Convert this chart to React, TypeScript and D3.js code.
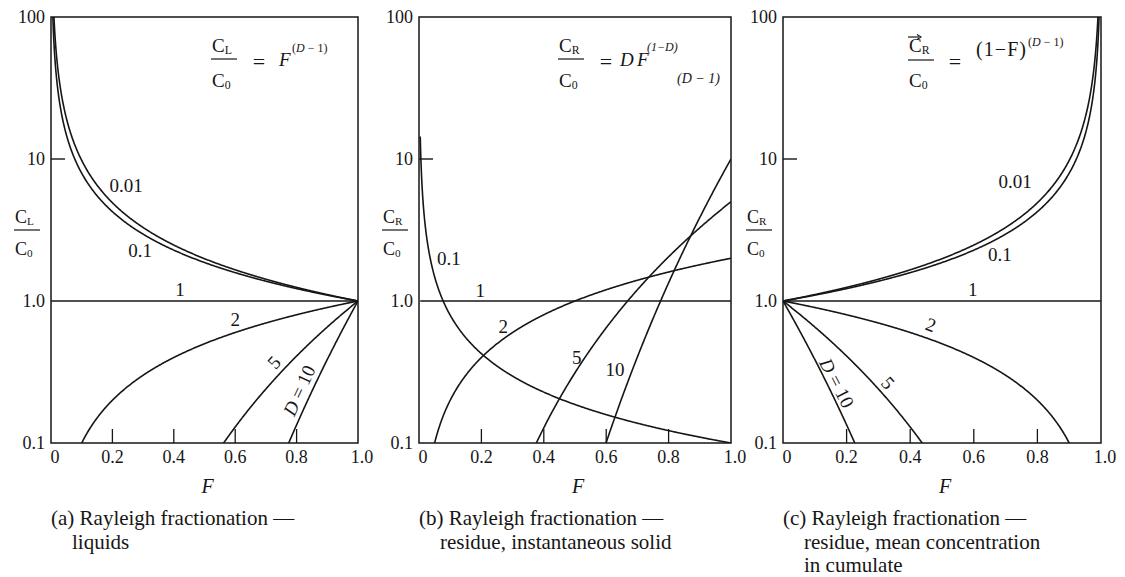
import React from "react";
import * as d3 from "d3";

const W = 1125;
const H = 577;

// Partition coefficients D drawn in each panel
const dLiquid = [0.01, 0.1, 1, 2, 5, 10];
const dInstant = [0.1, 1, 2, 5, 10];
const dCumulate = [0.01, 0.1, 1, 2, 5, 10];

// Axis ticks
const xTickValues = [0, 0.2, 0.4, 0.6, 0.8, 1.0];
const xTickLabels = ["0", "0.2", "0.4", "0.6", "0.8", "1.0"];
const xInnerTicks = [0.2, 0.4, 0.6, 0.8];
const yTickValues = [0.1, 1, 10, 100];
const yTickLabels = ["0.1", "1.0", "10", "100"];
const yInnerTicks = [10];

// Curve labels, anchored in data space (F, C/C0)
const labelsLiquid = [
  { text: "0.01", F: 0.245, v: 6.5, rot: 0 },
  { text: "0.1", F: 0.29, v: 2.25, rot: 0 },
  { text: "1", F: 0.42, v: 1.2, rot: 0 },
  { text: "2", F: 0.6, v: 0.74, rot: 0 },
  { text: "5", F: 0.726, v: 0.37, rot: -47 },
  { text: "D = 10", F: 0.808, v: 0.235, rot: -65 },
];
const labelsInstant = [
  { text: "0.1", F: 0.096, v: 2.0, rot: 0 },
  { text: "1", F: 0.196, v: 1.18, rot: 0 },
  { text: "2", F: 0.27, v: 0.66, rot: 0 },
  { text: "5", F: 0.506, v: 0.4, rot: 0 },
  { text: "10", F: 0.628, v: 0.33, rot: 0 },
];
const labelsCumulate = [
  { text: "0.01", F: 0.73, v: 6.9, rot: 0 },
  { text: "0.1", F: 0.682, v: 2.14, rot: 0 },
  { text: "1", F: 0.597, v: 1.2, rot: 0 },
  { text: "2", F: 0.465, v: 0.68, rot: 20 },
  { text: "5", F: 0.33, v: 0.265, rot: 48 },
  { text: "D = 10", F: 0.17, v: 0.265, rot: 63 },
];

// Rayleigh fractionation relations
const liquidConc = (F: number, D: number) => Math.pow(F, D - 1);
const instantSolidConc = (F: number, D: number) => D * Math.pow(F, D - 1);
const cumulateConc = (F: number, D: number) => Math.pow(1 - F, D - 1);

const INK = "#161616";
const SERIF = "'Liberation Serif', 'Times New Roman', serif";

const yTop = 17;
const yBottom = 443;

interface PanelDef {
  id: string;
  x0: number;
  x1: number;
  ds: number[];
  f: (F: number, D: number) => number;
  fMin: number;
  fMax: number;
  labels: { text: string; F: number; v: number; rot: number }[];
  sub: string;
  caption: string[];
}

const panels: PanelDef[] = [
  {
    id: "a",
    x0: 51,
    x1: 358,
    ds: dLiquid,
    f: liquidConc,
    fMin: 0.0002,
    fMax: 1,
    labels: labelsLiquid,
    sub: "L",
    caption: ["(a) Rayleigh fractionation \u2014", "liquids"],
  },
  {
    id: "b",
    x0: 419,
    x1: 731,
    ds: dInstant,
    f: instantSolidConc,
    fMin: 0.004,
    fMax: 1,
    labels: labelsInstant,
    sub: "R",
    caption: ["(b) Rayleigh fractionation \u2014", "residue, instantaneous solid"],
  },
  {
    id: "c",
    x0: 783,
    x1: 1101,
    ds: dCumulate,
    f: cumulateConc,
    fMin: 0,
    fMax: 0.9998,
    labels: labelsCumulate,
    sub: "R",
    caption: [
      "(c) Rayleigh fractionation \u2014",
      "residue, mean concentration",
      "in cumulate",
    ],
  },
];

function sampleF(fMin: number, fMax: number): number[] {
  const lin = d3.range(0, 1.0000001, 0.002);
  const nearZero = d3.range(-4, -2.3, 0.05).map((e) => Math.pow(10, e));
  const nearOne = nearZero.map((e) => 1 - e);
  return Array.from(new Set([...lin, ...nearZero, ...nearOne]))
    .filter((F) => F >= fMin && F <= fMax)
    .sort((a, b) => a - b);
}

function Frac({
  cx,
  yNum,
  yLine,
  yDen,
  sub,
  size,
  bar,
}: {
  cx: number;
  yNum: number;
  yLine: number;
  yDen: number;
  sub: string;
  size: number;
  bar?: boolean;
}) {
  return (
    <g fontFamily={SERIF} fill={INK}>
      {bar && (
        <g>
          <line x1={cx - 13} x2={cx - 2} y1={yNum - 15} y2={yNum - 15} stroke={INK} strokeWidth={1.2} />
          <path d={`M${cx - 4},${yNum - 17.5} L${cx},${yNum - 15} L${cx - 4},${yNum - 12.5}`} fill="none" stroke={INK} strokeWidth={1.1} />
        </g>
      )}
      <text x={cx - 12} y={yNum} fontSize={size}>
        C
        <tspan fontSize={size * 0.62} dy={2}>
          {sub}
        </tspan>
      </text>
      <line x1={cx - 13} x2={cx + 13} y1={yLine} y2={yLine} stroke={INK} strokeWidth={1.2} />
      <text x={cx - 12} y={yDen} fontSize={size}>
        C
        <tspan fontSize={size * 0.62} dy={2}>
          0
        </tspan>
      </text>
    </g>
  );
}

function Panel({ p }: { p: PanelDef }) {
  const x = d3.scaleLinear().domain([0, 1]).range([p.x0, p.x1]);
  const y = d3.scaleLog().domain([0.1, 100]).range([yBottom, yTop]);
  const Fs = sampleF(p.fMin, p.fMax);
  const line = d3
    .line<[number, number]>()
    .x((d) => x(d[0]))
    .y((d) => y(Math.min(1e4, Math.max(1e-3, d[1]))));
  const clipId = `clip-${p.id}`;

  return (
    <g>
      <defs>
        <clipPath id={clipId}>
          <rect x={p.x0} y={yTop} width={p.x1 - p.x0} height={yBottom - yTop} />
        </clipPath>
      </defs>

      {/* curves */}
      <g clipPath={`url(#${clipId})`} fill="none" stroke={INK} strokeWidth={1.6}>
        {p.ds.map((D) => (
          <path key={D} d={line(Fs.map((F) => [F, p.f(F, D)] as [number, number])) || ""} />
        ))}
      </g>

      {/* frame */}
      <rect
        x={p.x0}
        y={yTop}
        width={p.x1 - p.x0}
        height={yBottom - yTop}
        fill="none"
        stroke={INK}
        strokeWidth={1.5}
      />

      {/* inner ticks */}
      {xInnerTicks.map((t) => (
        <line key={t} x1={x(t)} x2={x(t)} y1={yBottom} y2={yBottom - 14} stroke={INK} strokeWidth={1.3} />
      ))}
      {yInnerTicks.map((t) => (
        <line key={t} x1={p.x0} x2={p.x0 + 14} y1={y(t)} y2={y(t)} stroke={INK} strokeWidth={1.4} />
      ))}

      {/* tick labels */}
      <g fontFamily={SERIF} fontSize={18} fill={INK}>
        {xTickValues.map((t, i) => (
          <text
            key={t}
            x={x(t) + (i === 0 ? 4 : i === xTickValues.length - 1 ? 4 : 0)}
            y={463}
            textAnchor="middle"
          >
            {xTickLabels[i]}
          </text>
        ))}
        {yTickValues.map((t, i) => (
          <text key={t} x={p.x0 - 6} y={y(t) + 6} textAnchor="end">
            {yTickLabels[i]}
          </text>
        ))}
      </g>

      {/* axis title */}
      <text
        x={x(0.5) + 3}
        y={493}
        textAnchor="middle"
        fontFamily={SERIF}
        fontStyle="italic"
        fontSize={20}
        fill={INK}
      >
        F
      </text>

      {/* y-axis title */}
      <Frac cx={p.x0 - 24} yNum={223} yLine={230} yDen={255} sub={p.sub} size={18} />

      {/* curve labels */}
      <g fontFamily={SERIF} fontSize={19} fill={INK}>
        {p.labels.map((l) => (
          <text
            key={l.text}
            transform={`translate(${x(l.F)},${y(l.v)}) rotate(${l.rot})`}
            textAnchor="middle"
            dominantBaseline="central"
          >
            {l.text.startsWith("D") ? (
              <>
                <tspan fontStyle="italic">D</tspan>
                {l.text.slice(1)}
              </>
            ) : (
              l.text
            )}
          </text>
        ))}
      </g>

      {/* caption */}
      <g fontFamily={SERIF} fontSize={21} fill={INK}>
        {p.caption.map((c, i) => (
          <text key={i} x={i === 0 ? p.x0 : p.x0 + 21} y={525 + i * 23.5}>
            {c}
          </text>
        ))}
      </g>
    </g>
  );
}

export default function App() {
  return (
    <svg
      width={W}
      height={H}
      viewBox={`0 0 ${W} ${H}`}
      style={{ position: "absolute", left: 0, top: 0, background: "#fff" }}
    >
      <rect width={W} height={H} fill="#fff" />
      {panels.map((p) => (
        <Panel key={p.id} p={p} />
      ))}

      {/* (a) C_L / C_0 = F^(D-1) */}
      <Frac cx={224} yNum={52} yLine={59} yDen={87} sub="L" size={19} />
      <g fontFamily={SERIF} fill={INK}>
        <text x={259} y={69} fontSize={22} textAnchor="middle">=</text>
        <text x={279} y={66} fontSize={19} fontStyle="italic">F</text>
        <text x={292} y={52} fontSize={12}>
          (<tspan fontStyle="italic">D</tspan> − 1)
        </text>
      </g>

      {/* (b) C_R / C_0 = D F^(1-D) */}
      <Frac cx={571} yNum={52} yLine={59} yDen={87} sub="R" size={19} />
      <g fontFamily={SERIF} fill={INK}>
        <text x={606} y={69} fontSize={22} textAnchor="middle">=</text>
        <text x={620} y={66} fontSize={19} fontStyle="italic">D</text>
        <text x={637} y={66} fontSize={19} fontStyle="italic">F</text>
        <text x={647} y={51} fontSize={12} fontStyle="italic">(1−D)</text>
        <text x={677} y={83} fontSize={14} fontStyle="italic">(D − 1)</text>
      </g>

      {/* (c) mean C_R / C_0 = (1-F)^(D-1) */}
      <Frac cx={921} yNum={52} yLine={60} yDen={87} sub="R" size={19} bar />
      <g fontFamily={SERIF} fill={INK}>
        <text x={955} y={69} fontSize={22} textAnchor="middle">=</text>
        <text x={976} y={56} fontSize={20} textLength={50} lengthAdjust="spacing">(1−F)</text>
        <text x={1028} y={46} fontSize={12}>
          (<tspan fontStyle="italic">D</tspan> − 1)
        </text>
      </g>
    </svg>
  );
}
